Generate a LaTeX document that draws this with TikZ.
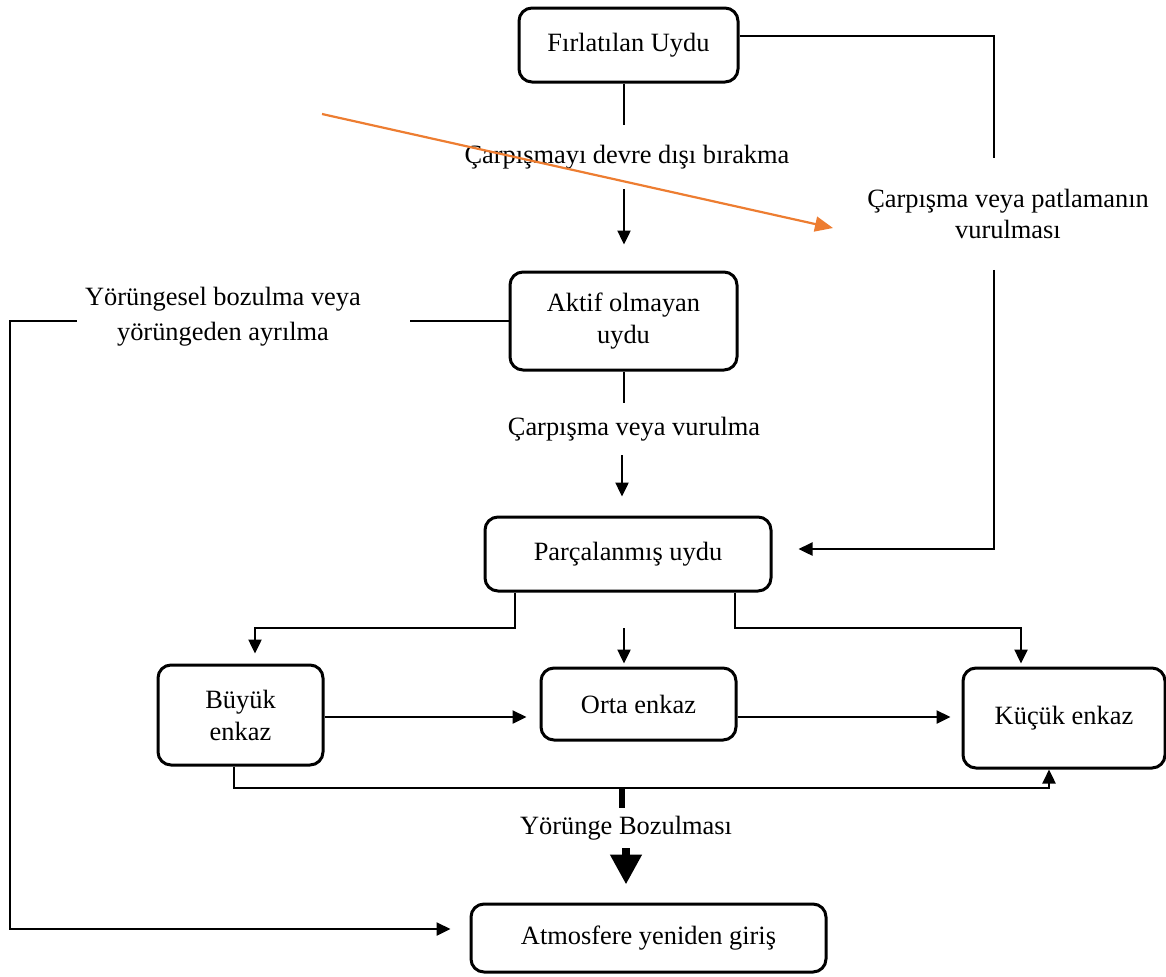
\documentclass[tikz,border=0pt]{standalone}
\usepackage{fontspec}
\setmainfont{Liberation Serif}
\usetikzlibrary{arrows.meta, positioning}
\definecolor{corange}{HTML}{ED7D31}
\tikzset{
  every picture/.style={x=0.5pt, y=-0.5pt, line width=1.2pt, font=\fontsize{13.2}{16}\selectfont},
  stage/.style={draw, rounded corners=6.5pt, align=center, line width=1.5pt, inner sep=2pt},
  event/.style={align=center, inner xsep=2pt, inner ysep=#1},
  event/.default=6pt,
  arrow/.style={-{Triangle[length=7pt, width=6.5pt]}},
  bigarrow/.style={line width=4pt, -{Triangle[length=15pt, width=15pt]}},
}

\begin{document}
\begin{tikzpicture}
  \useasboundingbox (0,0) rectangle (1166,976);
  % stages
  \node[stage, minimum width=109.5pt, minimum height=37pt] (launch) at (628.5,45) {Fırlatılan Uydu};
  \node[stage, minimum width=113.5pt, minimum height=49pt] (inactive) at (623.5,321) {Aktif olmayan\\uydu};
  \node[stage, minimum width=143pt, minimum height=37pt] (broken) at (628,554) {Parçalanmış uydu};
  \node[stage, minimum width=82.5pt, minimum height=50pt] (large) at (240.5,715) {Büyük\\enkaz};
  \node[stage, minimum width=97.5pt, minimum height=36pt] (medium) at (638.5,704) {Orta enkaz};
  \node[stage, minimum width=101pt, minimum height=50pt] (small) at (1064,718) {Küçük enkaz};
  \node[stage, minimum width=177.5pt, minimum height=34pt] (reentry) at (648.5,938) {Atmosfere yeniden giriş};
  % events
  \node[event=9.5pt] (safe) at (627,157) {Çarpışmayı devre dışı bırakma};
  \node[event=15pt, font=\fontsize{13.2}{15.5}\selectfont] (hit) at (1008,214) {Çarpışma veya patlamanın\\vurulması};
  \node[event=3pt, font=\fontsize{13.2}{17.5}\selectfont] (decay) at (223,317) {Yörüngesel bozulma veya\\yörüngeden ayrılma};
  \node[event=6.5pt] (collide) at (634,429) {Çarpışma veya vurulma};
  \node[event=3.5pt] (orbit) at (626,828) {Yörünge Bozulması};
  \coordinate (rail) at (994,0);
  \coordinate (split) at (624,628);
  \coordinate (lsplit) at (515,628);
  \coordinate (rsplit) at (735,628);
  \coordinate (ostart) at (322,114);
  \coordinate (oend) at (833,228);

  % main column
  \draw (launch.south -| split) -- (safe.north -| split);
  \draw[arrow, shorten >=13pt] (safe.south -| split) -- (inactive.north -| split);
  \draw (inactive.south -| split) -- (collide.north -| split);
  \draw[arrow, shorten >=9.5pt] (collide.south -| 622,0) -- (broken.north -| 622,0);
  % right rail
  \draw ([yshift=4.5pt]launch.east) -| (rail |- hit.north);
  \draw[arrow, shorten >=13pt] (rail |- hit.south) |- ([yshift=2.5pt]broken.east);
  % left rail
  \draw (inactive.west) -- ([xshift=22pt]decay.east |- inactive.west);
  \draw[arrow, shorten >=9.5pt] ([xshift=-1.5pt]decay.west |- inactive.west) -| (10,929) -- ([yshift=4.5pt]reentry.west);
  % fragments
  \draw[arrow, shorten >=5pt] (broken.south -| lsplit) -- (lsplit) -| ([xshift=7.25pt]large.north);
  \draw[arrow, shorten >=1.5pt] (split) -- (medium.north -| split);
  \draw[arrow, shorten >=1.5pt] (broken.south -| rsplit) -- (rsplit) -| ([xshift=-21.5pt]small.north);
  \draw[arrow, shorten >=6.5pt] (large.east |- 0,717) -- (medium.west |- 0,717);
  \draw[arrow, shorten >=5.5pt] (medium.east |- 0,717) -- (small.west |- 0,717);
  \draw[arrow] ([xshift=-3.25pt]large.south) |- (1049,788) -- (small.south -| 1049,0);
  % decay
  \draw[line width=3pt] (622,789) -- (orbit.north -| 622,0);
  \draw[bigarrow, shorten >=9pt] (orbit.south) -- (orbit.south |- reentry.north);
  % note arrow
  \draw[corange, line width=1.1pt, -{Triangle[length=9pt, width=7.5pt]}] (ostart) -- (oend);
\end{tikzpicture}
\end{document}
